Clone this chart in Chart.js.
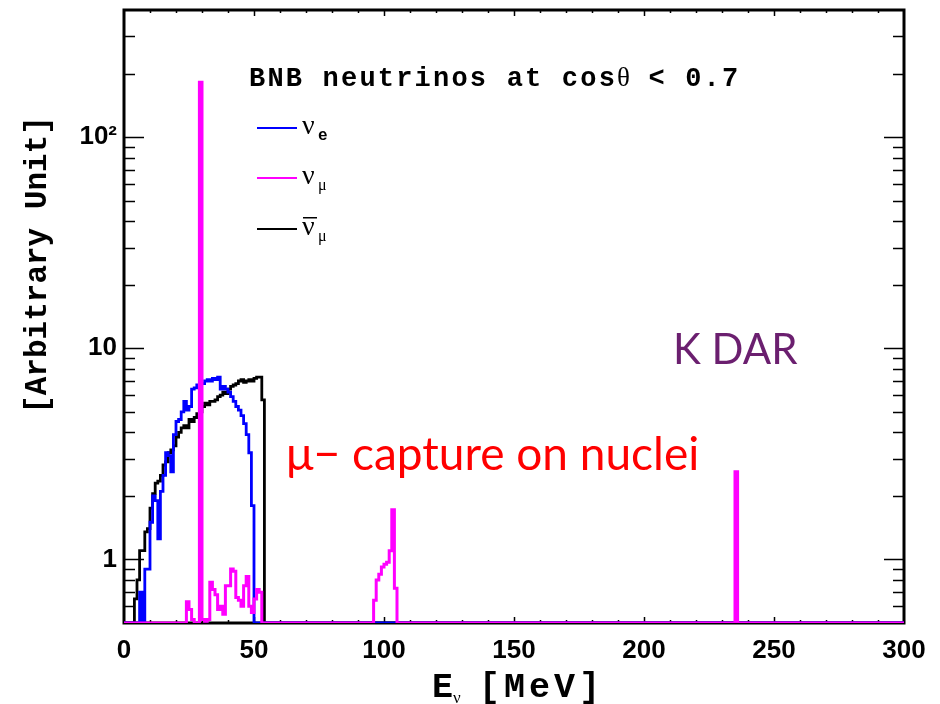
<!DOCTYPE html>
<html>
<head>
<meta charset="utf-8">
<script src="https://cdn.jsdelivr.net/npm/chart.js@4.4.1/dist/chart.umd.min.js"></script>
<style>
  html, body { margin: 0; padding: 0; background: #fff; }
</style>
</head>
<body>
<canvas id="fluxChart" width="940" height="704"></canvas>
<script>
// binning and axis ranges (E_nu in MeV, arbitrary units on y)
const binWidth = 1;
const xMin = 0, xMax = 300;
const yMin = 0.5, yMax = 400;
const xTickLabels = [0, 50, 100, 150, 200, 250, 300];
const yTickLabels = { 1: '1', 10: '10', 100: '10\u00b2' };

// nu_e, bins starting at 6 MeV (0 = empty bin)
const nueFirstBin = 6;
const nueValues = [0.7, 0, 0.9, 0.9, 1.5, 2.0, 1.9, 1.25, 2.1, 2.5, 3.2, 3.1, 2.6, 3.9,
  4.5, 4.6, 5.0, 5.6, 5.1, 5.3, 6.4, 6.5, 6.7, 6.8, 6.8, 7.0, 7.1, 7.0, 7.2, 7.1, 7.3,
  6.4, 6.6, 6.4, 6.2, 5.9, 5.6, 5.3, 5.1, 4.8, 4.4, 3.9, 3.2, 1.8];

// anti nu_mu, bins starting at 4 MeV
const antiNumuFirstBin = 4;
const antiNumuValues = [0.65, 0.8, 1.1, 1.1, 1.35, 1.4, 1.75, 2.05, 2.3, 2.35, 2.5, 2.8,
  2.9, 3.2, 3.3, 3.45, 3.8, 4.0, 4.2, 4.3, 4.2, 4.6, 4.5, 4.7, 4.9, 5.0, 5.3, 5.5, 5.4,
  5.6, 5.6, 5.7, 5.9, 6.0, 6.2, 6.1, 6.4, 6.6, 6.7, 6.8, 7.0, 7.1, 6.9, 7.0, 7.1, 7.0,
  7.2, 7.3, 7.3, 5.7];

// nu_mu: pi DAR region incl. the 29.8 MeV line, mu- capture bump, K DAR line
const numuLowFirstBin = 24;
const numuLowValues = [0.63, 0.58, 0.52, 0, 0, 182, 0.52, 0.51, 0.52, 0.78, 0.72, 0.68,
  0.58, 0.6, 0.55, 0.75, 0.75, 0.9, 0.88, 0.66, 0.64, 0.6, 0.75, 0.83, 0.6, 0.56, 0.65,
  0.72, 0.7];
const numuCaptureFirstBin = 96;
const numuCaptureValues = [0.64, 0.8, 0.85, 0.92, 0.95, 0.97, 1.1, 1.72, 0.73];
const numuKdarFirstBin = 235;
const numuKdarValues = [2.6];

// turn bin contents into a step outline; empty bins sit on the frame floor
function histo(segments) {
  const pts = [];
  for (let b = xMin; b < xMax; b += binWidth) {
    let v = 0;
    segments.forEach(([first, vals]) => {
      const k = b - first;
      if (k >= 0 && k < vals.length) v = vals[k];
    });
    const y = v > yMin ? v : yMin;
    pts.push({ x: b, y: y }, { x: b + binWidth, y: y });
  }
  return pts;
}

const yTickValues = [];
[0.1, 1, 10, 100].forEach(d => {
  for (let m = 1; m <= 9; m++) {
    const v = +(m * d).toPrecision(3);
    if (v >= yMin && v <= yMax) yTickValues.push(v);
  }
});
yTickValues.push(yMax);

// frame and inward ticks, ROOT style
const frameTicks = {
  id: 'frameTicks',
  beforeDatasetsDraw(chart) {
    const { ctx, chartArea: a, scales } = chart;
    ctx.save();
    ctx.strokeStyle = '#000';
    ctx.lineWidth = 1.5;
    ctx.beginPath();
    yTickValues.forEach(v => {
      if (v <= yMin || v >= yMax) return;
      const y = Math.round(scales.y.getPixelForValue(v)) + 0.5;
      const len = yTickLabels[v] ? 20 : 11;
      ctx.moveTo(a.left, y); ctx.lineTo(a.left + len, y);
      ctx.moveTo(a.right, y); ctx.lineTo(a.right - len, y);
    });
    for (let v = xMin + 10; v < xMax; v += 10) {
      const x = Math.round(scales.x.getPixelForValue(v)) + 0.5;
      const len = v % 50 === 0 ? 6 : 3;
      ctx.moveTo(x, a.bottom); ctx.lineTo(x, a.bottom - len);
      ctx.moveTo(x, a.top); ctx.lineTo(x, a.top + len);
    }
    ctx.stroke();
    ctx.lineWidth = 3;
    ctx.strokeRect(a.left, a.top, a.right - a.left, a.bottom - a.top);
    ctx.restore();
  },
  afterDraw(chart) {
    const ctx = chart.ctx;
    ctx.save();
    ctx.fillStyle = '#000';
    ctx.textBaseline = 'alphabetic';

    // header and legend
    ctx.font = 'bold 27px "Liberation Mono"';
    ctx.letterSpacing = '2.2px';
    ctx.fillText('BNB neutrinos at cos', 249, 86);
    let w = ctx.measureText('BNB neutrinos at cos').width;
    ctx.font = '27px "Liberation Serif"';
    ctx.letterSpacing = '0px';
    ctx.fillText('\u03b8', 249 + w, 86);
    w += ctx.measureText('\u03b8').width;
    ctx.font = 'bold 27px "Liberation Mono"';
    ctx.letterSpacing = '2.2px';
    ctx.fillText(' < 0.7', 249 + w, 86);
    ctx.letterSpacing = '0px';

    const entries = [
      { color: 'rgb(0,0,255)', sub: 'e', bar: false, y: 128 },
      { color: 'rgb(255,0,255)', sub: '\u03bc', bar: false, y: 178 },
      { color: '#000', sub: '\u03bc', bar: true, y: 229 }
    ];
    entries.forEach(e => {
      ctx.strokeStyle = e.color;
      ctx.lineWidth = 2;
      ctx.beginPath();
      ctx.moveTo(257, e.y); ctx.lineTo(297, e.y);
      ctx.stroke();
      ctx.fillStyle = '#000';
      ctx.font = '28px "Liberation Serif"';
      ctx.fillText('\u03bd', 302, e.y + 6);
      if (e.bar) ctx.fillRect(303, e.y - 12, 14, 1.5);
      ctx.font = (e.sub === 'e' ? 'bold 16px "Liberation Mono"' : '16px "Liberation Serif"');
      ctx.fillText(e.sub, 318, e.y + 12);
    });

    // axis titles
    ctx.fillStyle = '#000';
    ctx.font = 'bold 31px "Liberation Mono"';
    ctx.save();
    ctx.translate(46, 265);
    ctx.rotate(-Math.PI / 2);
    ctx.textAlign = 'center';
    ctx.fillText('[Arbitrary Unit]', 0, 0);
    ctx.restore();

    ctx.font = 'bold 35px "Liberation Mono"';
    ctx.letterSpacing = '4px';
    ctx.fillText('E', 432, 697);
    ctx.fillText('[MeV]', 479, 697);
    ctx.letterSpacing = '0px';
    ctx.font = '17px "Liberation Serif"';
    ctx.fillText('\u03bd', 453, 703);

    // annotations
    ctx.font = '46px Lato';
    ctx.fillStyle = '#ff0000';
    ctx.fillText('\u03bc\u2212 capture on nuclei', 286, 470);
    ctx.font = '42px Lato';
    ctx.fillStyle = '#6b1f6f';
    ctx.fillText('K DAR', 673, 364);
    ctx.restore();
  }
};

const ctx = document.getElementById('fluxChart').getContext('2d');
new Chart(ctx, {
  type: 'line',
  data: {
    datasets: [
      {
        label: 'numu',
        data: histo([[numuLowFirstBin, numuLowValues], [numuCaptureFirstBin, numuCaptureValues],
                     [numuKdarFirstBin, numuKdarValues]]),
        borderColor: 'rgb(255,0,255)',
        borderWidth: 3
      },
      {
        label: 'nue',
        data: histo([[nueFirstBin, nueValues]]),
        borderColor: 'rgb(0,0,255)',
        borderWidth: 2.8
      },
      {
        label: 'antinumu',
        data: histo([[antiNumuFirstBin, antiNumuValues]]),
        borderColor: '#000',
        borderWidth: 2.8
      }
    ]
  },
  options: {
    responsive: false,
    animation: false,
    events: [],
    layout: { padding: { top: 10, right: 36, left: 0, bottom: 0 } },
    elements: {
      point: { radius: 0 },
      line: { tension: 0, borderJoinStyle: 'miter', fill: false }
    },
    plugins: { legend: { display: false }, tooltip: { enabled: false } },
    scales: {
      x: {
        type: 'linear',
        min: xMin,
        max: xMax,
        afterFit(s) { s.height = 81; },
        afterBuildTicks(s) { s.ticks = xTickLabels.map(v => ({ value: v })); },
        grid: { display: false, drawTicks: false },
        border: { display: false },
        ticks: {
          padding: 12,
          autoSkip: false,
          maxRotation: 0,
          color: '#000',
          font: { family: '"Liberation Sans"', size: 26, weight: 'bold' }
        }
      },
      y: {
        type: 'logarithmic',
        min: yMin,
        max: yMax,
        afterFit(s) { s.width = 124; },
        afterBuildTicks(s) { s.ticks = yTickValues.map(v => ({ value: v })); },
        grid: { display: false, drawTicks: false },
        border: { display: false },
        ticks: {
          padding: 7,
          autoSkip: false,
          color: '#000',
          font: c => ({ family: '"Liberation Sans"', weight: 'bold',
                        size: (c.tick && yTickLabels[c.tick.value]) ? 26 : 1 }),
          callback: v => yTickLabels[v] || ''
        }
      }
    }
  },
  plugins: [frameTicks]
});
</script>
</body>
</html>
